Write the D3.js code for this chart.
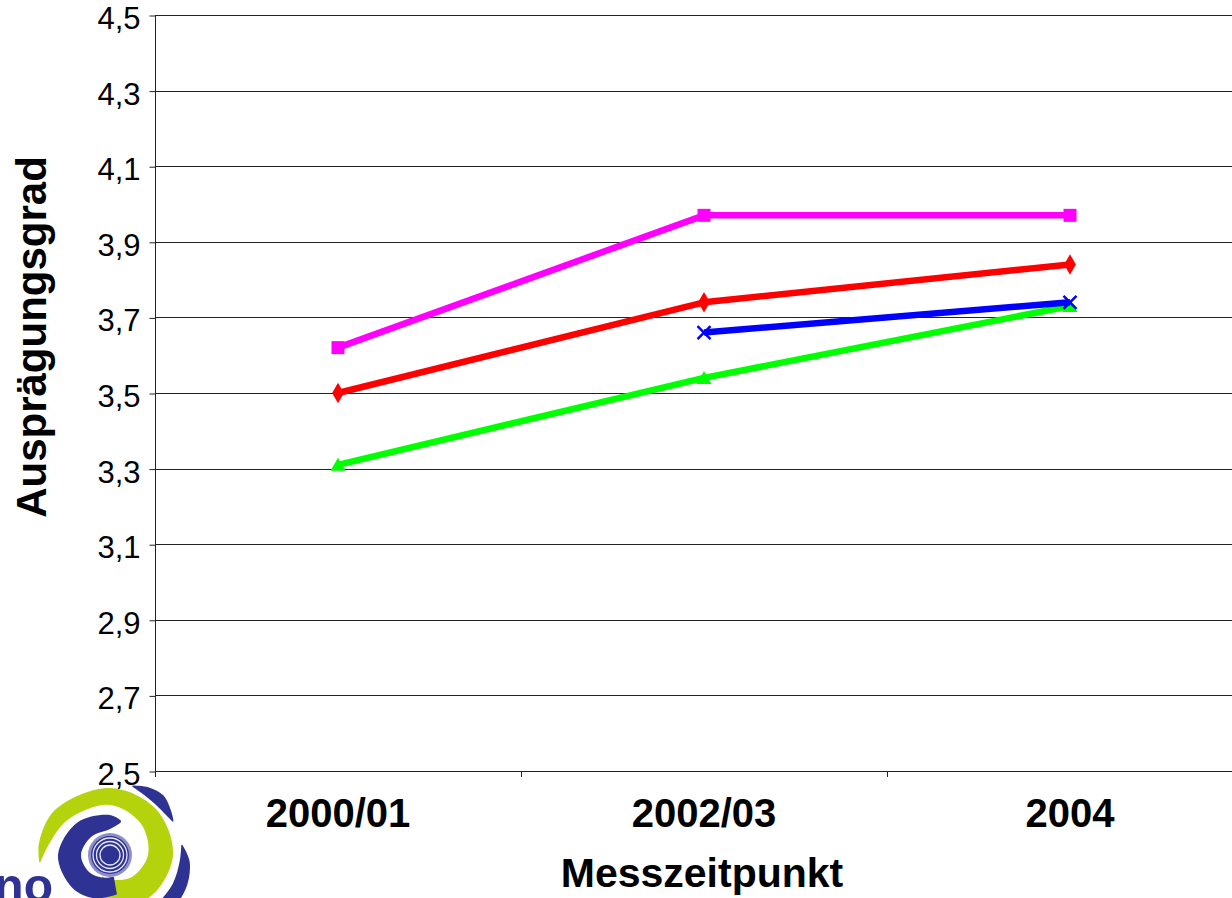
<!DOCTYPE html>
<html>
<head>
<meta charset="utf-8">
<script src="https://cdnjs.cloudflare.com/ajax/libs/d3/7.8.5/d3.min.js"></script>
<style>
  html, body { margin: 0; padding: 0; background: #fff; overflow: hidden; }
  svg { display: block; font-family: "Liberation Sans", Arial, sans-serif; }
</style>
</head>
<body>
<svg id="chart" width="1232" height="898"></svg>
<script>
// Measurement waves and mean scores per group
const categories = ["2000/01", "2002/03", "2004"];
const yTicks = [2.5, 2.7, 2.9, 3.1, 3.3, 3.5, 3.7, 3.9, 4.1, 4.3, 4.5];

const redValues     = [3.50, 3.74, 3.84];
const magentaValues = [3.62, 3.97, 3.97];
const greenValues   = [3.31, 3.54, 3.73];
const blueValues    = [null, 3.66, 3.74];

const series = [
  { name: "red",     color: "#ff0000", marker: "diamond",  values: redValues },
  { name: "magenta", color: "#ff00ff", marker: "square",   values: magentaValues },
  { name: "green",   color: "#00ff00", marker: "triangle", values: greenValues },
  { name: "blue",    color: "#0000ff", marker: "cross",    values: blueValues }
];

const svg = d3.select("#chart");
const plot = { left: 155, top: 15, bottom: 771, bandWidth: 366 };

const x = d3.scaleBand()
  .domain(categories)
  .range([plot.left, plot.left + plot.bandWidth * categories.length])
  .paddingInner(0).paddingOuter(0);
const y = d3.scaleLinear().domain([2.5, 4.5]).range([plot.bottom, plot.top]);
const cx = d => x(d) + x.bandwidth() / 2;

// Horizontal gridlines
svg.append("g")
  .selectAll("line")
  .data(yTicks)
  .join("line")
  .attr("x1", plot.left).attr("x2", 1300)
  .attr("y1", d => Math.round(y(d)) + 0.5)
  .attr("y2", d => Math.round(y(d)) + 0.5)
  .attr("stroke", "#222").attr("stroke-width", 1);

// Y axis
const yAxis = svg.append("g")
  .attr("transform", `translate(${plot.left + 0.5},0.5)`)
  .call(d3.axisLeft(y).tickValues(yTicks).tickSize(6).tickPadding(9)
    .tickFormat(d => d3.format(".1f")(d).replace(".", ",")));
yAxis.select(".domain").attr("stroke", "#222").attr("d", `M0,${plot.top}V${plot.bottom}`);
yAxis.selectAll(".tick line").attr("stroke", "#222");
yAxis.selectAll(".tick text")
  .attr("font-size", 31).attr("fill", "#000")
  .attr("font-family", "Liberation Sans, Arial, sans-serif")
  .attr("dy", "0.42em");

// X axis ticks at category boundaries
const boundaries = d3.range(categories.length + 1).map(i => plot.left + i * x.bandwidth());
svg.append("g")
  .selectAll("line")
  .data(boundaries)
  .join("line")
  .attr("x1", d => Math.round(d) + 0.5).attr("x2", d => Math.round(d) + 0.5)
  .attr("y1", plot.bottom).attr("y2", plot.bottom + 6)
  .attr("stroke", "#222");

// Category labels
svg.append("g")
  .selectAll("text")
  .data(categories)
  .join("text")
  .attr("x", d => cx(d))
  .attr("y", 827)
  .attr("text-anchor", "middle")
  .attr("font-size", 40).attr("font-weight", "bold")
  .text(d => d);

// Axis titles
svg.append("text")
  .attr("x", 702).attr("y", 887)
  .attr("text-anchor", "middle")
  .attr("font-size", 41).attr("font-weight", "bold")
  .text("Messzeitpunkt");

svg.append("text")
  .attr("transform", "translate(46,337) rotate(-90)")
  .attr("text-anchor", "middle")
  .attr("font-size", 42).attr("font-weight", "bold")
  .text("Ausprägungsgrad");

// Series lines and markers
const line = d3.line()
  .defined(d => d.v != null)
  .x(d => cx(d.c))
  .y(d => y(d.v));

const markerPath = {
  diamond:  d3.symbol(d3.symbolDiamond, 120)(),
  square:   "M-6.5,-6.5H6.5V6.5H-6.5Z",
  triangle: "M0,-7L7.5,6H-7.5Z",
  cross:    "M-6.5,-6.5L6.5,6.5M-6.5,6.5L6.5,-6.5"
};

series.forEach(s => {
  const pts = categories.map((c, i) => ({ c, v: s.values[i] }));
  const g = svg.append("g");
  g.append("path")
    .attr("d", line(pts))
    .attr("fill", "none")
    .attr("stroke", s.color)
    .attr("stroke-width", 6.5)
    .attr("stroke-linejoin", "round");
  g.selectAll("path.m")
    .data(pts.filter(d => d.v != null))
    .join("path")
    .attr("class", "m")
    .attr("transform", d => `translate(${cx(d.c)},${y(d.v)})`)
    .attr("d", markerPath[s.marker])
    .attr("fill", s.marker === "cross" ? "none" : s.color)
    .attr("stroke", s.marker === "cross" ? s.color : "none")
    .attr("stroke-width", s.marker === "cross" ? 2.5 : 0);
});

// Logo in the lower left corner
const navy = "#2e3192", lime = "#b5d30d";
const defs = svg.append("defs");
defs.append("filter").attr("id", "soft")
  .append("feGaussianBlur").attr("stdDeviation", 0.7);
const logo = svg.append("g")
  .attr("transform", "translate(110,855)")
  .attr("filter", "url(#soft)");

const band = d3.areaRadial()
  .curve(d3.curveCatmullRom)
  .angle(d => d[0] * Math.PI / 180)
  .innerRadius(d => d[1])
  .outerRadius(d => d[2]);

// lime spiral arm: [angle, inner, outer]
const limeArm = [[-96, 70, 71], [-80, 62, 72], [-50, 55, 71], [0, 50, 67], [45, 44, 65],
  [90, 38, 63], [135, 31, 58], [175, 25, 50], [200, 23, 44]];
// navy inner arm
const navyArm = [[18, 34, 36], [0, 26, 40], [-45, 26, 46], [-90, 29, 52], [-130, 27, 50], [-160, 24, 46], [-190, 22, 40]];
// outer navy pieces
const navyOuterA = [[18, 72, 73], [30, 69, 78], [42, 68, 80], [55, 69, 75], [62, 71, 72]];
const navyOuterB = [[82, 72, 73], [95, 70, 80], [115, 69, 83], [140, 68, 82], [160, 70, 76]];

logo.append("path").attr("d", band(limeArm)).attr("fill", lime);
logo.append("path").attr("d", band(navyArm)).attr("fill", navy);
logo.append("path").attr("d", band(navyOuterA)).attr("fill", navy);
logo.append("path").attr("d", band(navyOuterB)).attr("fill", navy);

logo.append("circle").attr("r", 22).attr("fill", "#8d8fcc");
logo.append("circle").attr("r", 19).attr("fill", navy);
[10, 13.5, 17].forEach(r => logo.append("circle").attr("r", r)
  .attr("fill", "none").attr("stroke", "#e6e7f7").attr("stroke-width", 1.3));

svg.append("text")
  .attr("x", 53).attr("y", 902)
  .attr("text-anchor", "end")
  .attr("font-size", 48).attr("font-weight", "bold")
  .attr("fill", navy)
  .attr("filter", "url(#soft)")
  .text("no");
</script>
</body>
</html>
